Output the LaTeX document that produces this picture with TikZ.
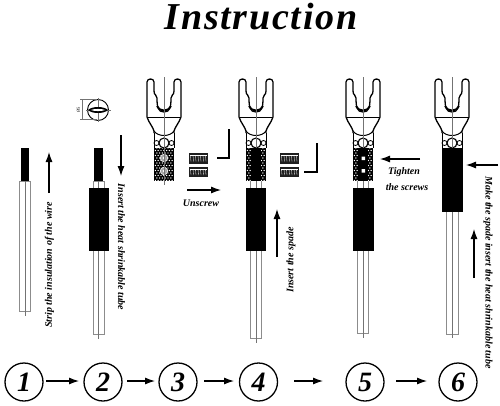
\documentclass[tikz,border=0pt]{standalone}
\usepackage{fontspec}
\setmainfont{Liberation Serif}
\usetikzlibrary{arrows.meta}
\tikzset{
  x=1pt,y=-1pt,
  lab/.style={font=\fontsize{10}{12}\selectfont\bfseries\itshape,inner sep=0pt},
  num/.style={circle,draw,line width=1.3pt,minimum size=38pt,inner sep=0pt,font=\fontsize{28}{30}\selectfont\bfseries\itshape},
  bigarrow/.style={line width=1.1pt,-{Latex[length=10pt,width=7pt]}},
  greyline/.style={draw=black!45,line width=.6pt},
  thinline/.style={draw=black!55,line width=.4pt},
}
\newcommand{\spadehead}[1]{%
  \begin{scope}[shift={(#1,79)}]
  \draw[line width=1.3pt,line join=round,fill=white]
    (-10,54) -- (-10,52) .. controls (-11,48) and (-15,44) .. (-17,38) -- (-17,3)
    .. controls (-17,-1) and (-10,-1) .. (-10,3) -- (-10,12)
    .. controls (-10,17) and (-7,15) .. (-7,19)
    .. controls (-7,28) and (-6,33) .. (0,33)
    .. controls (6,33) and (7,28) .. (7,19)
    .. controls (7,15) and (10,17) .. (10,12) -- (10,3)
    .. controls (10,-1) and (17,-1) .. (17,3) -- (17,38)
    .. controls (15,44) and (11,48) .. (10,52) -- (10,54);
  \draw[line width=1.9pt] (-7,27) .. controls (-5,33) and (5,33) .. (7,27);
  \draw[line width=.8pt] (-16.5,38) -- (16.5,38);
  \draw[line width=1pt] (-10,52) .. controls (-6,58) and (6,58) .. (10,52);
  \draw[line width=1pt] (-10,54) -- (-10,69) (10,54) -- (10,69);
  \draw[line width=1.1pt] (0,64) circle (5);
  \draw[line width=.8pt] (-7.5,64) circle (2.5) (7.5,64) circle (2.5);
  \draw[thinline] (0,-2) -- (0,106);
  \end{scope}}
\newcommand{\dith}[4]{% x1 y1 x2 y2: black block with staggered white dots
  \fill[black] (#1,#2) rectangle (#3,#4);
  \begin{scope}
  \clip (#1+.8,#2+.8) rectangle (#3-.8,#4-.8);
  \foreach \r in {0,...,13}{
    \pgfmathsetmacro{\off}{mod(\r,2)*1.4}
    \foreach \c in {0,...,8}{
      \fill[white] (#1+\c*2.8+\off,#2+\r*2.5) circle (.72);
    }}
  \end{scope}}
\newcommand{\screws}[1]{%
  \begin{scope}[shift={(#1,0)}]
  \foreach \yy in {153,166.5}{
    \fill[black!88] (0,\yy) rectangle (19,\yy+10.5);
    \foreach \k in {2,4.5,...,17.5}{\draw[white,line width=.3pt] (\k-.5,\yy+2.5) -- (\k,\yy+8.5);}
    \draw[white,line width=.35pt] (1,\yy+2.2) -- (18,\yy+2.2);
  }
  \end{scope}}
\begin{document}
\begin{tikzpicture}
\useasboundingbox (0,0) rectangle (500,405);
\fill[white] (0,0) rectangle (500,405);
\node[font=\fontsize{38}{42}\selectfont\bfseries\itshape\addfontfeature{LetterSpace=4.5},inner sep=0pt,anchor=base] (title) at (261,29) {Instruction};

% wire 1
\draw[greyline] (19.5,181) -- (19.5,311) -- (30.5,311) -- (30.5,181) -- cycle;
\draw[thinline] (25,181) -- (25,316);
\fill (20.5,148) rectangle (29,181);
\coordinate (a1s) at (49,193); \coordinate (a1e) at (49,152);
\draw[bigarrow] (a1s) -- (a1e);
\node[lab,rotate=90] (t1) at (49.5,265) {Strip the insulation of the wire};

% screwdriver symbol
\draw[line width=.9pt] (98,110) circle (10.5);
\draw[thinline] (86,110) -- (111,110) (98,98) -- (98,122);
\fill (88,110) .. controls (92,106) and (104,106) .. (108,110) .. controls (104,114) and (92,114) .. (88,110);
\fill[white] (91,110) .. controls (94,108.6) and (102,108.6) .. (105,110) .. controls (102,111.4) and (94,111.4) .. (91,110);
\draw[thinline] (80,99.5) -- (97,99.5) (80,119.5) -- (97,119.5) (82,99.5) -- (82,119.5);
\node[inner sep=0pt,rotate=90,font=\fontsize{4.5}{5}\selectfont] (dim) at (78.5,109.5) {Ø5};

% wire 2
\draw[greyline] (93,181) -- (93,334) -- (104.5,334) -- (104.5,181) -- cycle;
\draw[thinline] (98.5,181) -- (98.5,339);
\fill (94,148) rectangle (103,181);
\fill (88.5,188) rectangle (109,251);
\coordinate (a2s) at (121,135); \coordinate (a2e) at (121,176);
\draw[bigarrow] (a2s) -- (a2e);
\node[lab,rotate=-90] (t2) at (121.5,247) {Insert the heat shrinkable tube};

% spade 3
\spadehead{164}
\dith{154}{148}{174}{181}
\draw[white,fill=black!35,line width=.6pt] (164,158) circle (3.8) (164,171) circle (3.8);
\fill[white] (164,158) circle (1.4) (164,171) circle (1.4);
\draw[thinline] (164,146) -- (164,185);
\screws{189}
\coordinate (k1a) at (229,129); \coordinate (k1b) at (229,158); \coordinate (k1c) at (216.5,158);
\draw[line width=2.8pt,line join=miter] (k1a) -- (k1b) -- (k1c);
\coordinate (a3s) at (187,190); \coordinate (a3e) at (221,190);
\draw[bigarrow] (a3s) -- (a3e);
\node[lab] (t3) at (201,203) {Unscrew};

% spade 4
\spadehead{256}
\dith{246}{148}{266}{181}
\fill (251,148) rectangle (261,181);
\draw[greyline] (250.5,181) -- (250.5,338) -- (261.5,338) -- (261.5,181);
\draw[thinline] (256,181) -- (256,343);
\fill (245.5,188) rectangle (266,251);
\screws{280}
\coordinate (k2a) at (317,143); \coordinate (k2b) at (317,172); \coordinate (k2c) at (304,172);
\draw[line width=2.8pt,line join=miter] (k2a) -- (k2b) -- (k2c);
\coordinate (a4s) at (277,257); \coordinate (a4e) at (277,209);
\draw[bigarrow] (a4s) -- (a4e);
\node[lab,rotate=90] (t4) at (291,260) {Insert the spade};

% spade 5
\spadehead{363}
\dith{353}{148}{373}{181}
\fill (358,148) rectangle (368,181);
\fill[white] (361.5,156.5) rectangle (365,160) (361.5,169) rectangle (365,172.5);
\draw[greyline] (357.5,181) -- (357.5,333) -- (368.5,333) -- (368.5,181);
\draw[thinline] (363,181) -- (363,338);
\fill (353,188) rectangle (373.5,251);
\coordinate (a5s) at (420,159); \coordinate (a5e) at (380,159);
\draw[bigarrow] (a5s) -- (a5e);
\node[lab] (t5a) at (404,172) {Tighten};
\node[lab] (t5b) at (407,187) {the screws};

% spade 6
\spadehead{452}
\fill (442,148) rectangle (463,212);
\draw[greyline] (446.5,212) -- (446.5,334) -- (458,334) -- (458,212);
\draw[thinline] (452,212) -- (452,338);
\coordinate (a6s) at (498,165); \coordinate (a6e) at (466,165);
\draw[bigarrow] (a6s) -- (a6e);
\coordinate (a7s) at (474,278); \coordinate (a7e) at (474,229);
\draw[bigarrow] (a7s) -- (a7e);
\node[lab,rotate=-90] (t6) at (488,272.5) {Make the spade insert the heat shrinkable tube};

% numbers
\node[num] (n1) at (24,382) {1};
\node[num] (n2) at (103,382) {2};
\node[num] (n3) at (178,382) {3};
\node[num] (n4) at (258.5,382) {4};
\node[num] (n5) at (365,382) {5};
\node[num] (n6) at (458,382) {6};
\coordinate (b1) at (46,381); \coordinate (e1) at (79,381);
\coordinate (b2) at (127,381); \coordinate (e2) at (155,381);
\coordinate (b3) at (204,381); \coordinate (e3) at (234,381);
\coordinate (b4) at (294,381); \coordinate (e4) at (323,381);
\coordinate (b5) at (396,381); \coordinate (e5) at (427,381);
\foreach \i in {1,...,5}{\draw[bigarrow] (b\i) -- (e\i);}
\end{tikzpicture}
\end{document}
